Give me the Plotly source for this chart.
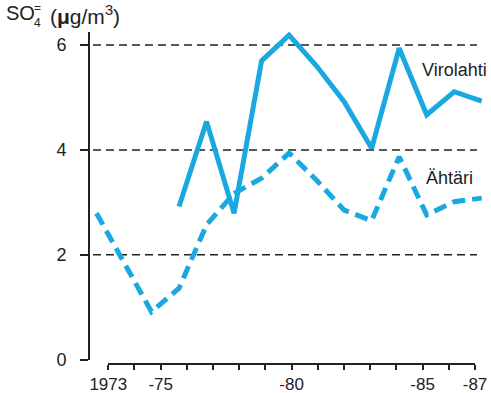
import plotly.graph_objects as go

# ---- data ----
years_ahtari = list(range(1973, 1988))
ahtari = [2.79, 1.85, 0.91, 1.36, 2.57, 3.17, 3.46, 3.94, 3.42, 2.85, 2.65, 3.87, 2.76, 3.01, 3.08]

years_virolahti = list(range(1976, 1988))
virolahti = [2.92, 4.54, 2.79, 5.70, 6.19, 5.60, 4.92, 4.03, 5.94, 4.67, 5.11, 4.93]

y_tick_vals = [0, 2, 4, 6]
grid_vals = [2, 4, 6]
x_tick_years = [1973, 1975, 1980, 1985, 1987]
x_tick_text = ["1973", "-75", "-80", "-85", "-87"]

# ---- layout geometry (window pixels) ----
W, H = 491, 393
PLOT_LEFT, PLOT_RIGHT, PLOT_TOP, PLOT_BOTTOM = 90, 487, 32, 363
L = PLOT_LEFT
R = W - PLOT_RIGHT
T = PLOT_TOP
B = H - PLOT_BOTTOM
PW, PH = W - L - R, H - T - B
BLUE = "#1aa8e0"
INK = "#222222"
FONT = "Liberation Sans, Arial, sans-serif"


def px_x(p):
    return (p - PLOT_LEFT) / PW


def px_y(p):
    return (PLOT_BOTTOM - p) / PH


fig = go.Figure()

fig.add_trace(go.Scatter(
    x=years_virolahti, y=virolahti, mode="lines",
    line=dict(color=BLUE, width=5), hoverinfo="skip", showlegend=False))
fig.add_trace(go.Scatter(
    x=years_ahtari, y=ahtari, mode="lines",
    line=dict(color=BLUE, width=5, dash="13px,7px"), hoverinfo="skip", showlegend=False))
# carrier for the tick axis
fig.add_trace(go.Scatter(
    x=[x_tick_years[0], x_tick_years[-1]], y=[0, 0], xaxis="x2", yaxis="y2",
    mode="lines", line=dict(width=0), opacity=0, hoverinfo="skip", showlegend=False))

shapes = []
for v in grid_vals:
    shapes.append(dict(type="line", xref="paper", yref="y",
                       x0=px_x(93), x1=px_x(477), y0=v, y1=v,
                       line=dict(color=INK, width=1.5, dash="8px,5px"), layer="below"))

ann_font = dict(family=FONT, size=21, color=INK)
small_font = dict(family=FONT, size=12, color=INK)
annotations = [
    dict(text="SO", x=px_x(4), y=px_y(13), xref="paper", yref="paper",
         xanchor="left", yanchor="middle", showarrow=False,
         font=dict(family=FONT, size=20, color=INK)),
    dict(text="=", x=px_x(32), y=px_y(8), xref="paper", yref="paper",
         xanchor="left", yanchor="middle", showarrow=False, font=small_font),
    dict(text="4", x=px_x(32), y=px_y(23), xref="paper", yref="paper",
         xanchor="left", yanchor="middle", showarrow=False, font=small_font),
    dict(text="(<b>μ</b>g/m<sup>3</sup>)", x=px_x(48), y=px_y(15), xref="paper", yref="paper",
         xanchor="left", yanchor="middle", showarrow=False, font=ann_font),
    dict(text="Virolahti", x=px_x(420), y=px_y(70), xref="paper", yref="paper",
         xanchor="left", yanchor="middle", showarrow=False,
         font=dict(family=FONT, size=18, color=INK)),
    dict(text="Ähtäri", x=px_x(424), y=px_y(178), xref="paper", yref="paper",
         xanchor="left", yanchor="middle", showarrow=False,
         font=dict(family=FONT, size=18, color=INK)),
]

# data x scale: 1973 -> px 96.5, 1987 -> px 481.7
ppy = (481.7 - 96.5) / 14
x0 = 1973 - (96.5 - PLOT_LEFT) / ppy
x1 = x0 + PW / ppy

y_dom0 = 3.5 / PH

fig.update_layout(
    width=W, height=H,
    margin=dict(l=L, r=R, t=T, b=B, pad=0, autoexpand=False),
    paper_bgcolor="white", plot_bgcolor="rgba(0,0,0,0)",
    font=dict(family=FONT, size=18, color=INK),
    xaxis=dict(range=[x0, x1], domain=[0, 1], visible=False, anchor="y", automargin=False),
    yaxis=dict(range=[0, 6.25], domain=[y_dom0, 1], anchor="x", automargin=False,
               showline=True, linewidth=2, linecolor=INK,
               ticks="outside", ticklen=8, tickwidth=2, tickcolor=INK,
               tickvals=y_tick_vals, ticktext=[str(v) for v in y_tick_vals],
               ticklabelstandoff=10, tickfont=dict(size=18),
               showgrid=False, zeroline=False, fixedrange=True),
    xaxis2=dict(range=[x_tick_years[0], x_tick_years[-1]], automargin=False,
                domain=[px_x(108.3), px_x(475)], anchor="y2",
                showline=True, linewidth=2, linecolor=INK,
                ticks="outside", ticklen=5, tickwidth=2, tickcolor=INK,
                tickvals=x_tick_years, ticktext=x_tick_text,
                minor=dict(tick0=x_tick_years[0], dtick=1, ticks="outside",
                           ticklen=5, tickwidth=2, tickcolor=INK, showgrid=False),
                ticklabelstandoff=0, tickfont=dict(size=17),
                showgrid=False, zeroline=False),
    yaxis2=dict(range=[0, 1], domain=[0, 1], anchor="x2", visible=False, automargin=False),
    shapes=shapes,
    annotations=annotations,
)

fig.write_html(
    "out.html",
    config={"displayModeBar": False, "staticPlot": True},
    post_script="document.body.style.margin='0';document.body.style.overflow='hidden';",
)
